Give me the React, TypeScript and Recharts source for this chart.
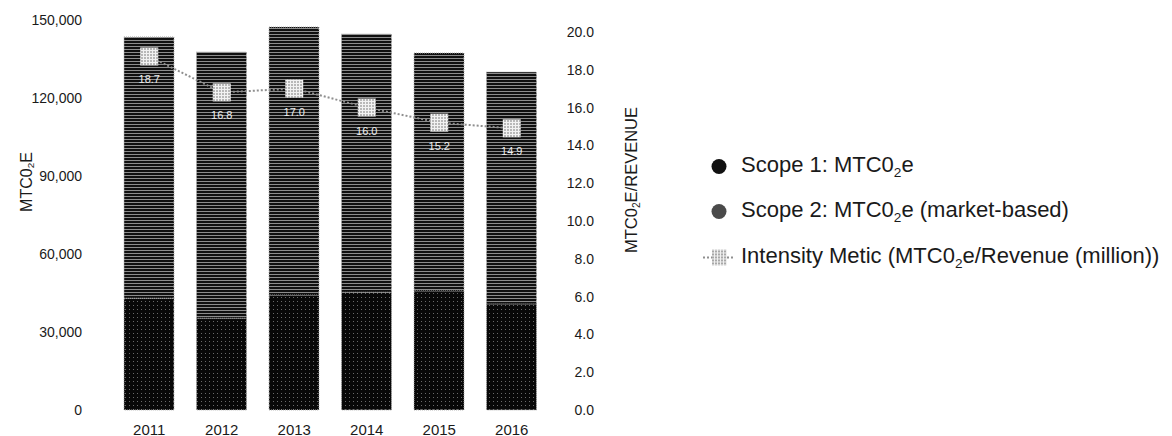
import { ComposedChart, Bar, Line, XAxis, YAxis } from 'recharts'

const years = ['2011', '2012', '2013', '2014', '2015', '2016']
const scope1 = [43000, 35300, 44200, 45300, 45800, 40800]
const scope2 = [100500, 102400, 103100, 99300, 91500, 89200]
const intensity = [18.7, 16.8, 17.0, 16.0, 15.2, 14.9]
const leftTicks = [0, 30000, 60000, 90000, 120000, 150000]
const rightTicks = [0, 2, 4, 6, 8, 10, 12, 14, 16, 18, 20]

const data = years.map((year, i) => ({
  year,
  scope1: scope1[i],
  scope2: scope2[i],
  intensity: intensity[i],
}))

const FONT = '"Liberation Sans", Arial, Helvetica, sans-serif'
const TEXT = '#1a1a1a'

const Sub = ({ children }: { children: string }) => (
  <span style={{ fontSize: '0.62em', verticalAlign: '-0.3em' }}>{children}</span>
)

function LeftTick({ x, y, payload }: any) {
  return (
    <text x={x} y={y} textAnchor="end" dominantBaseline="central" fontSize={14} fill={TEXT}>
      {Number(payload.value).toLocaleString('en-US')}
    </text>
  )
}

function RightTick({ x, y, payload }: any) {
  return (
    <text x={x} y={y} textAnchor="end" dominantBaseline="central" fontSize={14} fill={TEXT}>
      {Number(payload.value).toFixed(1)}
    </text>
  )
}

function YearTick({ x, y, payload }: any) {
  return (
    <text x={x} y={y} textAnchor="middle" dominantBaseline="central" fontSize={15} fill={TEXT}>
      {payload.value}
    </text>
  )
}

function MarkerDot({ cx, cy }: any) {
  if (cx == null || cy == null) return null
  return <rect x={cx - 9} y={cy - 9} width={18} height={18} fill="url(#markerPat)" />
}

function MarkerLabel({ x, y, value }: any) {
  return (
    <text x={x} y={y + 23} textAnchor="middle" dominantBaseline="central" fontSize={11} fill="#eeeeee">
      {Number(value).toFixed(1)}
    </text>
  )
}

const legendRows = [
  { top: 166, icon: 'circle', fill: '#111', label: ['Scope 1: MTC0', '2', 'e'] },
  { top: 211, icon: 'circle', fill: '#4a4a4a', label: ['Scope 2: MTC0', '2', 'e (market-based)'] },
  { top: 257, icon: 'marker', fill: '', label: ['Intensity Metic (MTC0', '2', 'e/Revenue (million))'] },
]

export default function App() {
  return (
    <div
      style={{
        position: 'absolute',
        left: 0,
        top: 0,
        width: 1172,
        height: 436,
        background: '#fff',
        fontFamily: FONT,
        color: TEXT,
      }}
    >
      <ComposedChart
        width={1172}
        height={436}
        data={data}
        margin={{ top: 20, right: 564, bottom: 0, left: 0 }}
        style={{ fontFamily: FONT }}
      >
        <defs>
          <pattern id="scope1Pat" width={4} height={4} patternUnits="userSpaceOnUse">
            <rect width={4} height={4} fill="#080808" />
            <rect x={1} y={1} width={1} height={1} fill="#6a6a6a" />
          </pattern>
          <pattern id="scope2Pat" width={4} height={3} patternUnits="userSpaceOnUse">
            <rect width={4} height={3} fill="#101010" />
            <rect y={1} width={4} height={1} fill="#8c8c8c" />
          </pattern>
          <pattern id="markerPat" width={3} height={3} patternUnits="userSpaceOnUse">
            <rect width={3} height={3} fill="#f2f2f2" />
            <rect width={2} height={2} fill="#b8b8b8" />
          </pattern>
        </defs>
        <XAxis
          dataKey="year"
          axisLine={false}
          tickLine={false}
          tickSize={0}
          tickMargin={19}
          height={26}
          tick={<YearTick />}
        />
        <YAxis
          yAxisId="left"
          domain={[0, 150000]}
          ticks={leftTicks}
          axisLine={false}
          tickLine={false}
          tickSize={0}
          tickMargin={31}
          width={113}
          tick={<LeftTick />}
        />
        <YAxis
          yAxisId="right"
          orientation="right"
          domain={[0, 20.63]}
          ticks={rightTicks}
          allowDataOverflow
          axisLine={false}
          tickLine={false}
          tickSize={0}
          tickMargin={46}
          width={60}
          tick={<RightTick />}
        />
        <Bar
          yAxisId="left"
          dataKey="scope1"
          stackId="a"
          barSize={50}
          fill="url(#scope1Pat)"
          stroke="#b0b0b0"
          strokeDasharray="1 1"
          isAnimationActive={false}
        />
        <Bar
          yAxisId="left"
          dataKey="scope2"
          stackId="a"
          barSize={50}
          fill="url(#scope2Pat)"
          stroke="#b0b0b0"
          strokeDasharray="1 1"
          isAnimationActive={false}
        />
        <Line
          yAxisId="right"
          dataKey="intensity"
          type="linear"
          stroke="#8f8f8f"
          strokeWidth={2}
          strokeDasharray="2 2"
          dot={<MarkerDot />}
          activeDot={false}
          label={<MarkerLabel />}
          isAnimationActive={false}
        />
      </ComposedChart>

      <div
        style={{
          position: 'absolute',
          left: 27,
          top: 182,
          transform: 'translate(-50%, -50%) rotate(-90deg)',
          fontSize: 16,
          whiteSpace: 'nowrap',
        }}
      >
        MTC0<Sub>2</Sub>E
      </div>
      <div
        style={{
          position: 'absolute',
          left: 632,
          top: 180,
          transform: 'translate(-50%, -50%) rotate(-90deg)',
          fontSize: 16.5,
          whiteSpace: 'nowrap',
        }}
      >
        MTC0<Sub>2</Sub>E/REVENUE
      </div>

      {legendRows.map((row, i) => (
        <div
          key={i}
          style={{
            position: 'absolute',
            left: 700,
            top: row.top,
            transform: 'translateY(-50%)',
            display: 'flex',
            alignItems: 'center',
            whiteSpace: 'nowrap',
            fontSize: 22,
          }}
        >
          <svg width={38} height={20} style={{ flex: 'none' }}>
            {row.icon === 'circle' ? (
              <circle cx={19} cy={10} r={7.5} fill={row.fill} />
            ) : (
              <g>
                <line x1={3} y1={10} x2={35} y2={10} stroke="#8f8f8f" strokeWidth={2} strokeDasharray="2 2" />
                <rect x={12} y={2} width={15} height={16} fill="url(#legendMarker)" />
                <defs>
                  <pattern id="legendMarker" width={3} height={3} patternUnits="userSpaceOnUse">
                    <rect width={3} height={3} fill="#f0f0f0" />
                    <rect width={2} height={2} fill="#a8a8a8" />
                  </pattern>
                </defs>
              </g>
            )}
          </svg>
          <span style={{ marginLeft: 3 }}>
            {row.label[0]}
            <Sub>{row.label[1]}</Sub>
            {row.label[2]}
          </span>
        </div>
      ))}
    </div>
  )
}
